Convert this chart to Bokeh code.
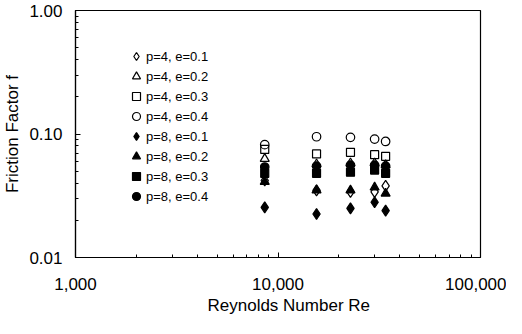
from bokeh.plotting import figure
from bokeh.models import NumeralTickFormatter, FixedTicker, Legend, Title
from bokeh.embed import file_html
from bokeh.resources import INLINE

# Reynolds numbers (columns of data points)
re_vals = [8600, 15500, 22800, 30000, 34000]

# Friction factor series
f_p4_e01 = [0.042, 0.035, 0.034, 0.034, 0.038]
f_p4_e02 = [0.063, 0.057, 0.058, 0.058, 0.056]
f_p4_e03 = [0.075, 0.069, 0.071, 0.068, 0.066]
f_p4_e04 = [0.082, 0.095, 0.094, 0.091, 0.087]
f_p8_e01 = [0.0255, 0.0225, 0.025, 0.028, 0.024]
f_p8_e02 = [0.041, 0.035, 0.035, 0.037, 0.033]
f_p8_e03 = [0.048, 0.048, 0.049, 0.051, 0.048]
f_p8_e04 = [0.054, 0.055, 0.056, 0.056, 0.055]

series_labels = ["p=4, e=0.1", "p=4, e=0.2", "p=4, e=0.3", "p=4, e=0.4",
                 "p=8, e=0.1", "p=8, e=0.2", "p=8, e=0.3", "p=8, e=0.4"]
series_data = [f_p4_e01, f_p4_e02, f_p4_e03, f_p4_e04,
               f_p8_e01, f_p8_e02, f_p8_e03, f_p8_e04]
markers = ["diamond", "triangle", "square", "circle",
           "diamond", "triangle", "square", "circle"]
filled = [False, False, False, False, True, True, True, True]

x_ticks = [1000, 10000, 100000]
y_ticks = [0.01, 0.1, 1.0]

FONT = "Liberation Sans"

p = figure(width=506, height=318, x_axis_type="log", y_axis_type="log",
           x_range=(1000, 100000), y_range=(0.01, 1.0),
           output_backend="svg", toolbar_location=None,
           min_border_left=72, min_border_right=26, min_border_top=10,
           min_border_bottom=61)

p.grid.visible = False
p.outline_line_color = "black"
p.outline_line_width = 1.2
p.background_fill_color = "white"
p.border_fill_color = "white"

sizes = {"diamond": 11, "triangle": 9, "square": 8, "circle": 8.5}
items = []
for lab, ys, mk, fl in zip(series_labels, series_data, markers, filled):
    r = p.scatter(re_vals, ys, marker=mk, size=sizes[mk],
                  line_color="black", line_width=1.2,
                  fill_color="black" if fl else None)
    items.append((lab, [r]))

legend = Legend(items=items, location=(51, 51))
legend.border_line_color = None
legend.background_fill_alpha = 0
legend.padding = 0
legend.spacing = 0
legend.margin = 0
legend.glyph_width = 20
legend.glyph_height = 20
legend.label_height = 20
legend.label_standoff = -5
legend.label_text_font = FONT
legend.label_text_font_size = "13px"
legend.label_text_color = "black"
p.add_layout(legend)

p.xaxis.ticker = FixedTicker(ticks=x_ticks,
                             minor_ticks=[k * 10 ** e for e in (3, 4) for k in range(2, 10)])
p.yaxis.ticker = FixedTicker(ticks=y_ticks,
                             minor_ticks=[k * 10.0 ** e for e in (-2, -1) for k in range(2, 10)])
p.xaxis.formatter = NumeralTickFormatter(format="0,0")
p.yaxis.formatter = NumeralTickFormatter(format="0.00")

for ax in (p.xaxis[0], p.yaxis[0]):
    ax.axis_line_color = "black"
    ax.axis_line_width = 1.2
    ax.major_tick_in = 5
    ax.major_tick_out = 0
    ax.minor_tick_in = 3
    ax.minor_tick_out = 0
    ax.major_tick_line_color = "black"
    ax.minor_tick_line_color = "black"
    ax.major_label_text_font = FONT
    ax.major_label_text_font_size = "17px"
    ax.major_label_text_color = "black"
    ax.axis_label_text_font = FONT
    ax.axis_label_text_font_size = "17px"
    ax.axis_label_text_font_style = "normal"
    ax.axis_label_text_color = "black"

p.yaxis.axis_label = "Friction Factor f"
p.xaxis.major_label_standoff = 20
p.yaxis.major_label_standoff = 13
p.yaxis.axis_label_standoff = 4

xtitle = Title(text="Reynolds Number  Re", align="left", offset=132,
               text_font=FONT, text_font_size="17px", text_font_style="normal",
               text_color="black", standoff=2)
p.add_layout(xtitle, "below")

open("out.html", "w").write(file_html(p, INLINE))
